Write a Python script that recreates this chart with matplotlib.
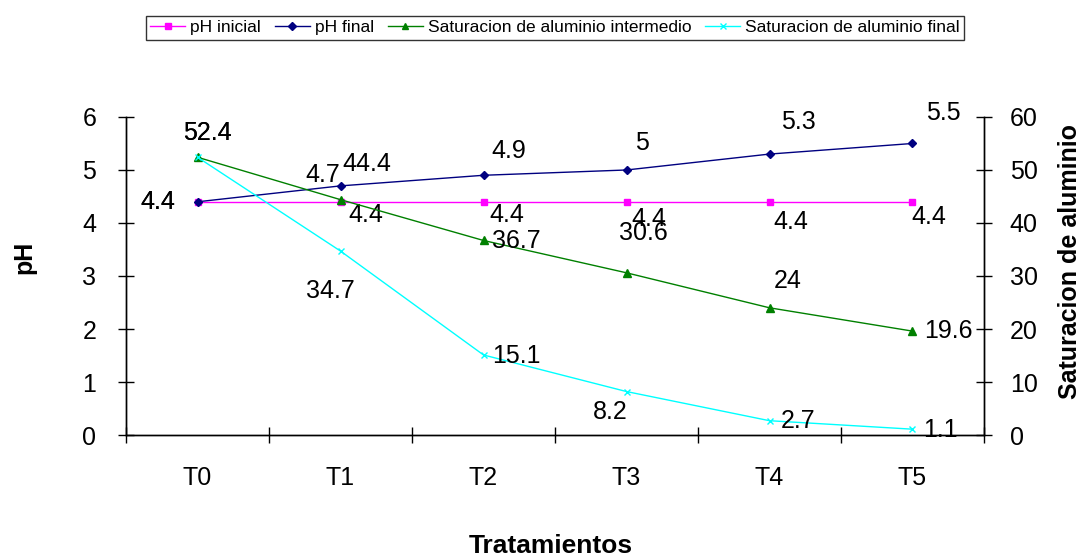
import matplotlib.pyplot as plt
import numpy as np

plt.rcParams['font.family'] = ['Liberation Sans', 'DejaVu Sans']

tratamientos = ['T0', 'T1', 'T2', 'T3', 'T4', 'T5']
ph_inicial = [4.4, 4.4, 4.4, 4.4, 4.4, 4.4]
ph_final = [4.4, 4.7, 4.9, 5.0, 5.3, 5.5]
sat_intermedio = [52.4, 44.4, 36.7, 30.6, 24.0, 19.6]
sat_final = [52.4, 34.7, 15.1, 8.2, 2.7, 1.1]

# label offsets in pixels (dx, dy) relative to each point
off_ph_ini = [(-40, 0), (25, -13), (23, -13), (22, -17), (21, -20), (16, -15)]
off_ph_fin = [(-40, 0), (-18, 11), (25, 24), (15, 27), (29, 32), (31, 30)]
off_sat_int = [(10, 24), (26, 36), (33, -1), (17, 40), (18, 27), (36, 0)]
off_sat_fin = [(10, 24), (-10, -40), (33, -1), (-16, -20), (29, 0), (28, -1)]

FS = 18

fig = plt.figure(figsize=(10.8, 5.57), dpi=100)
ax = fig.add_axes([0.1167, 0.219, 0.7944, 0.571])
ax2 = ax.twinx()

x = np.arange(len(tratamientos))

l1, = ax.plot(x, ph_inicial, color='#FF00FF', lw=1, marker='s', ms=5, label='pH inicial')
l2, = ax.plot(x, ph_final, color='#000080', lw=1, marker='D', ms=4.5, label='pH final')
l3, = ax2.plot(x, sat_intermedio, color='#008000', lw=1, marker='^', ms=6,
               label='Saturacion de aluminio intermedio')
l4, = ax2.plot(x, sat_final, color='#00FFFF', lw=1, marker='x', ms=5, mew=1,
               label='Saturacion de aluminio final')

def put_labels(axis, values, offsets):
    for xi, v, (dx, dy) in zip(x, values, offsets):
        axis.annotate(f'{v:g}', (xi, v), xytext=(dx, dy), textcoords='offset pixels',
                      ha='center', va='center', fontsize=FS)

put_labels(ax, ph_inicial, off_ph_ini)
put_labels(ax, ph_final, off_ph_fin)
put_labels(ax2, sat_intermedio, off_sat_int)
put_labels(ax2, sat_final, off_sat_fin)

ax.set_xlim(-0.5, 5.5)
ax.set_ylim(0, 6)
ax2.set_ylim(0, 60)
ax.set_yticks(np.arange(0, 7, 1))
ax2.set_yticks(np.arange(0, 70, 10))

ax.set_xticks(x)
ax.set_xticklabels(tratamientos)
ax.set_xticks(np.arange(-0.5, 6, 1), minor=True)
ax.tick_params(axis='x', which='major', length=0, pad=22, labelsize=FS)
ax.tick_params(axis='x', which='minor', direction='inout', length=11, width=1)
ax.tick_params(axis='y', direction='inout', length=11, width=1, pad=16, labelsize=FS)
ax2.tick_params(axis='y', direction='inout', length=11, width=1, pad=13, labelsize=FS)

for a in (ax, ax2):
    a.spines['top'].set_visible(False)
    for s in ('left', 'right', 'bottom'):
        a.spines[s].set_linewidth(1)
ax.patch.set_visible(False)

ax.set_ylabel('pH', fontsize=18, fontweight='bold')
ax.yaxis.set_label_coords(-0.104, 0.56)
ax2.set_ylabel('Saturacion de aluminio', fontsize=18, fontweight='bold')
ax2.yaxis.set_label_coords(1.086, 0.547)
ax.set_xlabel('Tratamientos', fontsize=19, fontweight='bold')
ax.xaxis.set_label_coords(0.495, -0.31)

leg = fig.legend(handles=[l1, l2, l3, l4], loc='center', bbox_to_anchor=(0.514, 0.95),
                 ncol=4, fontsize=12.5, frameon=True, fancybox=False, edgecolor='black',
                 handlelength=2, handletextpad=0.3, columnspacing=0.8, borderpad=0.25,
                 markerscale=0.8)
leg.get_frame().set_linewidth(1)

fig.savefig('out.png', dpi=100)
